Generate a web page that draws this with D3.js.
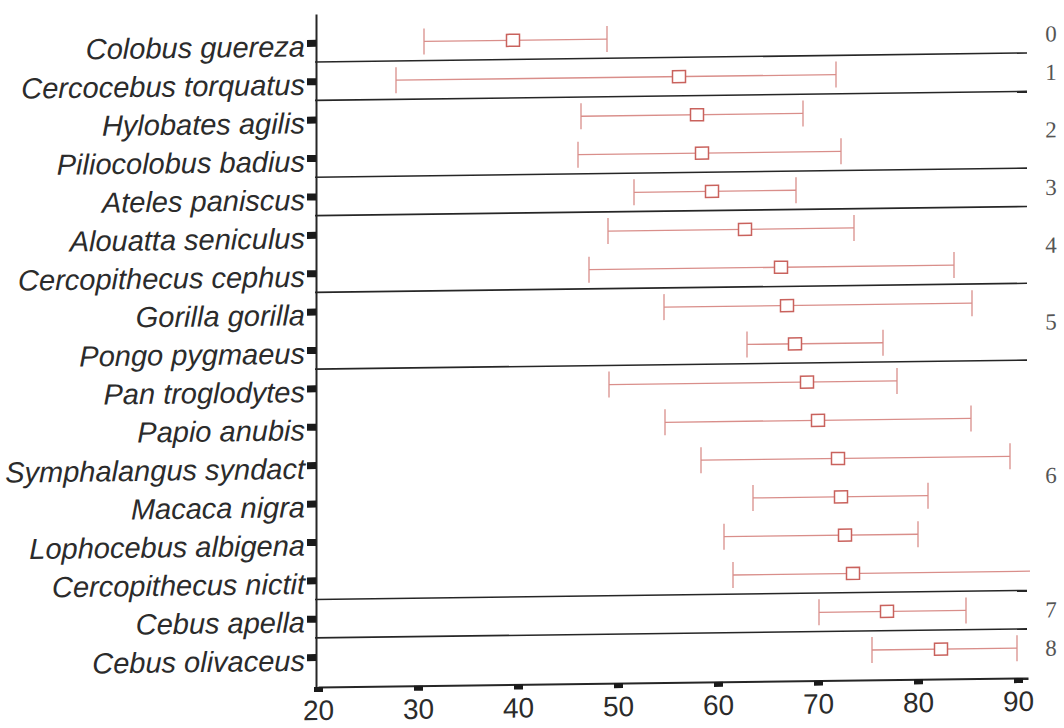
<!DOCTYPE html>
<html>
<head>
<meta charset="utf-8">
<script src="https://cdn.jsdelivr.net/npm/d3@7"></script>
<style>
  body { margin: 0; background: #fff; }
  svg { display: block; }
</style>
</head>
<body>
<svg id="chart" width="1064" height="728"></svg>
<script>
// species, top to bottom
var species = ["Colobus guereza", "Cercocebus torquatus", "Hylobates agilis", "Piliocolobus badius",
  "Ateles paniscus", "Alouatta seniculus", "Cercopithecus cephus", "Gorilla gorilla",
  "Pongo pygmaeus", "Pan troglodytes", "Papio anubis", "Symphalangus syndact",
  "Macaca nigra", "Lophocebus albigena", "Cercopithecus nictit", "Cebus apella", "Cebus olivaceus"];
var meanVal = [39.5, 56.1, 57.9, 58.4, 59.4, 62.7, 66.3, 66.9, 67.7, 68.9, 70.0, 72.0, 72.3, 72.7, 73.5, 76.9, 82.3];
var lowVal  = [30.6, 27.8, 46.3, 46.0, 51.6, 49.0, 47.1, 54.6, 62.9, 49.1, 54.7, 58.3, 63.5, 60.6, 61.5, 70.1, 75.4];
var highVal = [48.9, 71.8, 68.5, 72.3, 67.8, 73.6, 83.6, 85.4, 76.5, 77.9, 85.3, 89.2, 81.0, 80.0, 92.0, 84.8, 89.9];
// group number shown at the right
var groupOf = [0, 1, 2, 2, 3, 4, 4, 5, 5, 6, 6, 6, 6, 6, 6, 7, 8];
var xTicks = [20, 30, 40, 50, 60, 70, 80, 90];

var svg = d3.select("#chart");
// the scan is slightly tilted
var root = svg.append("g")
    .attr("transform", "translate(318,0) skewY(-0.73) translate(-318,0)");

var x = d3.scaleLinear().domain([20, 91]).range([318, 1028]);
var y = d3.scaleLinear().domain([-0.75, 16.78]).range([14, 687]);

root.append("defs").append("clipPath").attr("id", "plotclip")
  .append("rect").attr("x", 316).attr("y", 0).attr("width", x(91) - 316 + 2).attr("height", 700);

// group separators
var seps = [];
for (var i = 0; i < groupOf.length - 1; i++) {
  if (groupOf[i] != groupOf[i + 1]) seps.push(i + 0.5);
}
root.selectAll(".sep").data(seps).enter().append("line")
  .attr("class", "sep")
  .attr("x1", x(20) - 3).attr("x2", x(91) - 1)
  .attr("y1", d => y(d)).attr("y2", d => y(d))
  .attr("stroke", "#262626").attr("stroke-width", 1.6);

// error bars
var rows = species.map((s, i) => ({name: s, i: i, lo: lowVal[i], mid: meanVal[i], hi: highVal[i]}));
var bars = root.append("g").attr("clip-path", "url(#plotclip)");
var barCol = "#d98e8a";
bars.selectAll(".bar").data(rows).enter().append("line")
  .attr("x1", d => x(d.lo)).attr("x2", d => x(d.hi))
  .attr("y1", d => y(d.i)).attr("y2", d => y(d.i))
  .attr("stroke", barCol).attr("stroke-width", 1.3);
bars.selectAll(".capl").data(rows).enter().append("line")
  .attr("x1", d => x(d.lo)).attr("x2", d => x(d.lo))
  .attr("y1", d => y(d.i) - 13).attr("y2", d => y(d.i) + 13)
  .attr("stroke", barCol).attr("stroke-width", 1.3);
bars.selectAll(".caph").data(rows).enter().append("line")
  .attr("x1", d => x(d.hi)).attr("x2", d => x(d.hi))
  .attr("y1", d => y(d.i) - 13).attr("y2", d => y(d.i) + 13)
  .attr("stroke", barCol).attr("stroke-width", 1.3);
bars.selectAll(".box").data(rows).enter().append("rect")
  .attr("x", d => x(d.mid) - 6.5).attr("y", d => y(d.i) - 6)
  .attr("width", 13).attr("height", 12)
  .attr("fill", "#fff").attr("stroke", "#c9625d").attr("stroke-width", 1.5);

// y axis
var yAxis = root.append("g").attr("transform", "translate(" + (x(20) - 2) + ",0)")
  .call(d3.axisLeft(y).tickValues(d3.range(species.length))
    .tickFormat(i => species[i]).tickSizeInner(9).tickSizeOuter(0).tickPadding(2));
yAxis.select(".domain").attr("stroke", "#262626").attr("stroke-width", 2);
yAxis.selectAll(".tick line").attr("stroke", "#1a1a1a").attr("stroke-width", 7);
yAxis.selectAll(".tick text")
  .attr("dy", "13px")
  .attr("fill", "#2b2b2b")
  .style("font-family", "'Liberation Sans', Arial, sans-serif")
  .style("font-style", "italic")
  .style("font-size", "29px");

// x axis
var xAxis = root.append("g").attr("transform", "translate(0," + y.range()[1] + ")")
  .call(d3.axisBottom(x).tickValues(xTicks).tickSizeInner(5).tickSizeOuter(0));
xAxis.select(".domain").attr("stroke", "#262626").attr("stroke-width", 2);
xAxis.selectAll(".tick line").attr("stroke", "#1a1a1a").attr("stroke-width", 9);
xAxis.selectAll(".tick text")
  .attr("y", 33).attr("dy", 0)
  .attr("fill", "#2b2b2b")
  .style("font-family", "'Liberation Sans', Arial, sans-serif")
  .style("font-size", "28px");

// group numbers at the right
var groups = d3.groups(rows, d => groupOf[d.i]);
root.selectAll(".grp").data(groups).enter().append("text")
  .attr("x", 1051)
  .attr("y", d => y(d3.mean(d[1], r => r.i)) + 8)
  .attr("text-anchor", "middle")
  .attr("fill", "#555")
  .style("font-family", "'Liberation Serif', 'Times New Roman', serif")
  .style("font-size", "23px")
  .text(d => d[0]);
</script>
</body>
</html>
